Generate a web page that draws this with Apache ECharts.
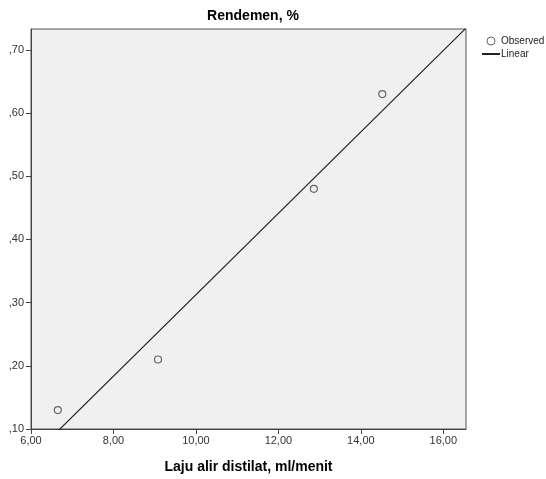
<!DOCTYPE html>
<html>
<head>
<meta charset="utf-8">
<script src="https://cdn.jsdelivr.net/npm/echarts@6/dist/echarts.min.js"></script>
<style>
  html, body { margin: 0; padding: 0; background: #fff; }
  #chart { width: 546px; height: 479px; }
</style>
</head>
<body>
<div id="chart"></div>
<script>
// observed points
const lajuAlir = [6.65, 9.08, 12.86, 14.52]
const rendemen = [0.13, 0.21, 0.48, 0.63]

const xMin = 6, xMax = 16.55, xStep = 2
const yMin = 0.1, yMax = 0.733, yStep = 0.1

// least squares line through the observed points
function linearFit(xs, ys) {
  const n = xs.length
  const mx = xs.reduce((a, b) => a + b, 0) / n
  const my = ys.reduce((a, b) => a + b, 0) / n
  let sxy = 0, sxx = 0
  for (let i = 0; i < n; i++) {
    sxy += (xs[i] - mx) * (ys[i] - my)
    sxx += (xs[i] - mx) * (xs[i] - mx)
  }
  const slope = sxy / sxx
  return { slope, intercept: my - slope * mx }
}

const fit = linearFit(lajuAlir, rendemen)
const fitLine = [xMin, xMax].map((x) => [x, fit.intercept + fit.slope * x])

const font = 'Liberation Sans, Arial, sans-serif'
const chart = echarts.init(document.getElementById('chart'))

chart.setOption({
  animation: false,
  backgroundColor: '#fff',
  textStyle: { fontFamily: font },
  title: {
    text: 'Rendemen, %',
    left: 248,
    textAlign: 'center',
    top: 4,
    textStyle: { fontSize: 14, fontWeight: 'bold', color: '#000', fontFamily: font },
  },
  legend: {
    orient: 'vertical',
    left: 476,
    top: 31,
    itemGap: 3,
    itemWidth: 18,
    itemHeight: 8,
    textStyle: { fontSize: 10, color: '#222', padding: [0, 0, 0, -4] },
    data: [
      { name: 'Observed', icon: 'circle', itemStyle: { color: '#fff', borderColor: '#444', borderWidth: 1 } },
      { name: 'Linear', itemStyle: { opacity: 0 } },
    ],
  },
  grid: {
    show: true,
    left: 31,
    right: 80,
    top: 29,
    bottom: 43,
    backgroundColor: '#f0f0f0',
    borderColor: '#555',
    borderWidth: 1,
  },
  xAxis: {
    type: 'value',
    min: xMin,
    max: xMax,
    interval: xStep,
    name: 'Laju alir distilat, ml/menit',
    nameLocation: 'middle',
    nameGap: 31,
    nameTextStyle: { fontSize: 14, fontWeight: 'bold', color: '#000' },
    axisLine: { onZero: false, lineStyle: { color: '#444' } },
    axisTick: { show: true, inside: false, length: 5, lineStyle: { color: '#444' } },
    axisLabel: {
      fontSize: 11,
      color: '#333',
      margin: 6,
      showMaxLabel: false,
      formatter: (v) => v.toFixed(2).replace('.', ','),
    },
    splitLine: { show: false },
  },
  yAxis: {
    type: 'value',
    min: yMin,
    max: yMax,
    interval: yStep,
    axisLine: { show: true, onZero: false, lineStyle: { color: '#444' } },
    axisTick: { show: true, inside: false, length: 5, lineStyle: { color: '#444' } },
    axisLabel: {
      fontSize: 11,
      color: '#333',
      margin: 7,
      showMaxLabel: false,
      formatter: (v) => v.toFixed(2).replace('0.', ','),
    },
    splitLine: { show: false },
  },
  series: [
    {
      name: 'Observed',
      type: 'scatter',
      data: lajuAlir.map((x, i) => [x, rendemen[i]]),
      symbol: 'circle',
      symbolSize: 7,
      itemStyle: { color: 'rgba(0,0,0,0)', borderColor: '#444', borderWidth: 1.2 },
      z: 3,
    },
    {
      name: 'Linear',
      type: 'line',
      data: fitLine,
      symbol: 'none',
      clip: true,
      lineStyle: { color: '#222', width: 1.2 },
      itemStyle: { color: '#222' },
      z: 2,
    },
  ],
})
</script>
</body>
</html>
